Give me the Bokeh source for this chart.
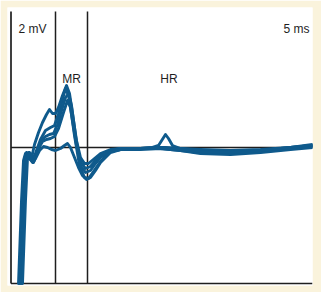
from bokeh.plotting import figure
from bokeh.models import Range1d
from bokeh.embed import file_html
from bokeh.resources import INLINE
from bokeh.core.properties import value

# time (ms) and amplitude (mV) for each recorded trace
t_a = [0.8,1.1,1.3,1.5,1.8,2.1,2.4,2.8,3.2,3.6,3.9,4.2,4.5,4.8,5.2,5.6,5.9,6.2,6.6,7.0,7.4,7.8,8.4,9.0,10.0,11.0,13.0,14.5,15.5,17.0,19.0,22.0,25.0,28.0,30.2]
v_a = [-5.44,-2.12,-0.52,-0.24,-0.44,-0.44,0.12,0.60,1.00,1.32,1.52,1.36,1.36,1.60,2.08,2.48,2.16,1.36,0.28,-0.40,-0.64,-0.64,-0.44,-0.24,-0.08,-0.04,-0.04,0,0,-0.04,-0.08,-0.12,-0.08,0,0.08]

t_b = [0.9,1.2,1.4,1.6,1.9,2.2,2.6,3.0,3.5,4.0,4.4,4.8,5.2,5.5,5.8,6.2,6.6,7.0,7.5,8.0,8.5,9.0,10.0,11.0,13.0,14.2,14.8,15.5,15.8,16.2,17.0,19.0,22.0,25.0,28.0,30.2]
v_b = [-5.44,-2.12,-0.44,-0.20,-0.44,-0.60,-0.12,0.32,0.68,0.80,0.88,1.36,1.92,2.36,2.08,1.08,0.08,-0.56,-0.84,-0.76,-0.52,-0.32,-0.12,-0.04,-0.04,0,0.08,0.52,0.36,0.08,-0.04,-0.12,-0.20,-0.12,0,0.08]

t_c = [1.0,1.3,1.5,1.7,2.0,2.3,2.7,3.1,3.5,3.9,4.3,4.7,5.1,5.5,5.8,6.1,6.5,7.0,7.5,8.0,8.5,9.0,10.0,11.0,13.0,15.0,17.0,19.0,22.0,25.0,28.0,30.2]
v_c = [-5.44,-2.12,-0.44,-0.24,-0.48,-0.60,-0.12,0.28,0.44,0.52,0.56,0.92,1.48,2.00,2.16,1.68,0.48,-0.72,-1.00,-0.92,-0.64,-0.40,-0.12,-0.08,-0.04,-0.04,-0.12,-0.20,-0.24,-0.16,-0.04,0.04]

t_d = [1.1,1.4,1.6,1.8,2.1,2.4,2.8,3.2,3.6,4.0,4.4,4.8,5.3,5.7,6.0,6.4,6.9,7.4,7.8,8.3,9.0,10.0,11.0,13.0,15.0,17.0,19.0,22.0,25.0,28.0,30.2]
v_d = [-5.44,-2.12,-0.40,-0.20,-0.40,-0.52,-0.04,0.24,0.32,0.36,0.44,0.76,1.40,1.88,1.60,0.48,-0.72,-1.20,-1.24,-0.96,-0.56,-0.16,-0.08,-0.08,-0.04,-0.12,-0.24,-0.28,-0.20,-0.08,0]

t_e = [1.2,1.5,1.7,1.9,2.2,2.5,2.9,3.3,3.7,4.1,4.5,5.0,5.4,5.7,6.0,6.4,6.8,7.2,7.6,8.0,8.5,9.0,10.0,11.0,13.0,15.0,17.0,19.0,22.0,25.0,28.0,30.2]
v_e = [-5.44,-2.12,-0.44,-0.20,-0.32,-0.44,-0.12,0.04,0,-0.08,-0.12,-0.04,0.08,0.16,0,-0.40,-0.80,-1.12,-1.28,-1.20,-0.92,-0.60,-0.20,-0.08,-0.04,0,-0.08,-0.16,-0.20,-0.12,0,0.12]

# reference markers (ms) and frame limits
marker_t = [4.5, 7.7]
t_min, t_max = 0.05, 30.2
v_min, v_max = -5.44, 5.44

labels = ["2 mV", "MR", "HR", "5 ms"]

CREAM = "#FAF3DC"
BLUE = "#0F5A8C"
INK = "#1E1E1E"

p = figure(width=321, height=292, output_backend="svg", toolbar_location=None,
           x_range=Range1d(-0.3, 30.2), y_range=Range1d(-5.52, 5.6),
           min_border_left=7, min_border_right=9, min_border_top=7, min_border_bottom=7)
p.axis.visible = False
p.grid.visible = False
p.outline_line_color = None
p.background_fill_color = "white"
p.border_fill_color = CREAM

# frame lines
p.segment(x0=[t_min], y0=[v_min], x1=[t_min], y1=[v_max], line_color=INK, line_width=1.7)
p.segment(x0=[t_min], y0=[v_min], x1=[t_max], y1=[v_min], line_color=INK, line_width=1.7)
p.segment(x0=marker_t, y0=[v_min]*2, x1=marker_t, y1=[v_max]*2, line_color=INK, line_width=1.5)
p.segment(x0=[t_min], y0=[0], x1=[t_max], y1=[0], line_color=INK, line_width=1.5)

for t, v in [(t_a, v_a), (t_b, v_b), (t_c, v_c), (t_d, v_d), (t_e, v_e)]:
    p.line(t, v, line_color=BLUE, line_width=2.9, line_join="round", line_cap="round")

font = value("Liberation Sans")
p.text(x=[0.8], y=[4.74], text=[labels[0]], text_font=font, text_font_size="12px",
       text_color=INK, text_align="left", text_baseline="alphabetic")
p.text(x=[6.1, 15.85], y=[2.74, 2.74], text=labels[1:3], text_font=font, text_font_size="12px",
       text_color=INK, text_align="center", text_baseline="alphabetic")
p.text(x=[29.9], y=[4.74], text=[labels[3]], text_font=font, text_font_size="12px",
       text_color=INK, text_align="right", text_baseline="alphabetic")

open("out.html", "w").write(file_html(p, INLINE))
